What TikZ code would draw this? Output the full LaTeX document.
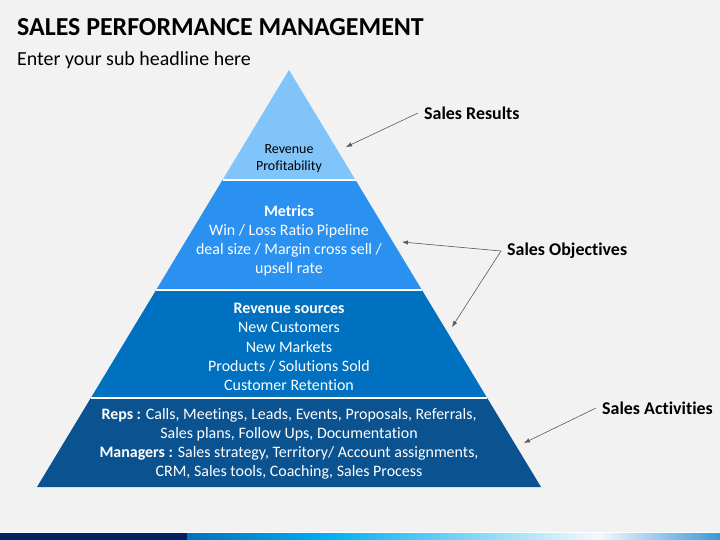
\documentclass[tikz,border=0pt]{standalone}
\usepackage{fontspec}
\setmainfont{Carlito}[Ligatures=NoCommon]
\usetikzlibrary{positioning,arrows.meta}
\definecolor{bgc}{HTML}{F2F2F2}
\definecolor{tierone}{HTML}{80C4FA}
\definecolor{tiertwo}{HTML}{2A91F0}
\definecolor{tierthree}{HTML}{0070C0}
\definecolor{tierfour}{HTML}{0B5290}
\definecolor{navy}{HTML}{002060}
\definecolor{stripcyan}{HTML}{00B0F0}
\definecolor{stripwhite}{HTML}{F4F9FD}
\definecolor{stripend}{HTML}{3A98DA}
\definecolor{pointergray}{HTML}{595959}
\tikzset{
	layertext/.style={align=center, text=white, font=\fontsize{16}{19.2}\selectfont},
	toptext/.style={align=center, text=black, font=\fontsize{14}{17}\selectfont},
	sidelabel/.style={anchor=west, inner xsep=6bp, font=\fontsize{18}{21}\selectfont\bfseries},
	pointer/.style={draw=pointergray, line width=0.6bp, -{Latex[length=6bp,width=4.5bp]}},
}
\begin{document}
\begin{tikzpicture}[x=1bp, y=-1bp]
		\fill[bgc] (0,0) rectangle (720,540);
		\useasboundingbox (0,0) rectangle (720,540);
		\node[anchor=base west, inner sep=0, font=\fontsize{26}{30}\selectfont\bfseries] (title) at (17,36) {SALES PERFORMANCE MANAGEMENT};
		\node[anchor=base west, inner sep=0, font=\fontsize{20}{24}\selectfont] (subtitle) at (17,66) {Enter your sub headline here};
		% pyramid
		\fill[tierone] (289,70) -- (355.5,180) -- (222.5,180) -- cycle;
		\fill[tiertwo] (222.5,180) -- (355.5,180) -- (421.9,290) -- (156.1,290) -- cycle;
		\fill[tierthree] (156.1,290) -- (421.9,290) -- (487.2,398) -- (90.8,398) -- cycle;
		\fill[tierfour] (90.8,398) -- (487.2,398) -- (541,487) -- (37,487) -- cycle;
		\draw[white, line width=1.5bp] (222.5,180) -- (355.5,180) (156.1,290) -- (421.9,290) (90.8,398) -- (487.2,398);
		\node[toptext] (revenue) at (289,158.5) {Revenue\\Profitability};
		\node[layertext] (metrics) at (289,240.5) {\textbf{Metrics}\\Win / Loss Ratio Pipeline\\deal size / Margin cross sell /\\upsell rate};
		\node[layertext] (sources) at (289,347) {\textbf{Revenue sources}\\New Customers\\New Markets\\Products / Solutions Sold\\Customer Retention};
		\node[layertext] (activities) at (289,444) {\textbf{Reps :} Calls, Meetings, Leads, Events, Proposals, Referrals,\\Sales plans, Follow Ups, Documentation\\\textbf{Managers :} Sales strategy, Territory/ Account assignments,\\CRM, Sales tools, Coaching, Sales Process};
		% labels on the right
		\node[sidelabel] (results) at (418,113) {Sales Results};
		\node[sidelabel] (objectives) at (501,251) {Sales Objectives};
		\node[sidelabel] (salesact) at (596,408) {Sales Activities};
		\coordinate (resultstip) at (346,147);
		\coordinate (metricstip) at (402,242);
		\coordinate (sourcestip) at (452,327);
		\coordinate (activitiestip) at (524,443);
		\draw[pointer] (results.west) -- (resultstip);
		\draw[pointer] (objectives.west) -- (metricstip);
		\draw[pointer] (objectives.west) -- (sourcestip);
		\draw[pointer] (salesact.west) -- (activitiestip);
		% bottom strip
		\draw[white, line width=1bp] (0,532.5) -- (720,532.5);
		\fill[navy] (0,533) rectangle (187,540);
		\shade[left color=tierthree, right color=stripcyan] (187,533) rectangle (330,540);
		\shade[left color=stripcyan, right color=stripwhite] (330,533) rectangle (598,540);
		\shade[left color=stripwhite, right color=stripend] (598,533) rectangle (720,540);
\end{tikzpicture}
\end{document}
